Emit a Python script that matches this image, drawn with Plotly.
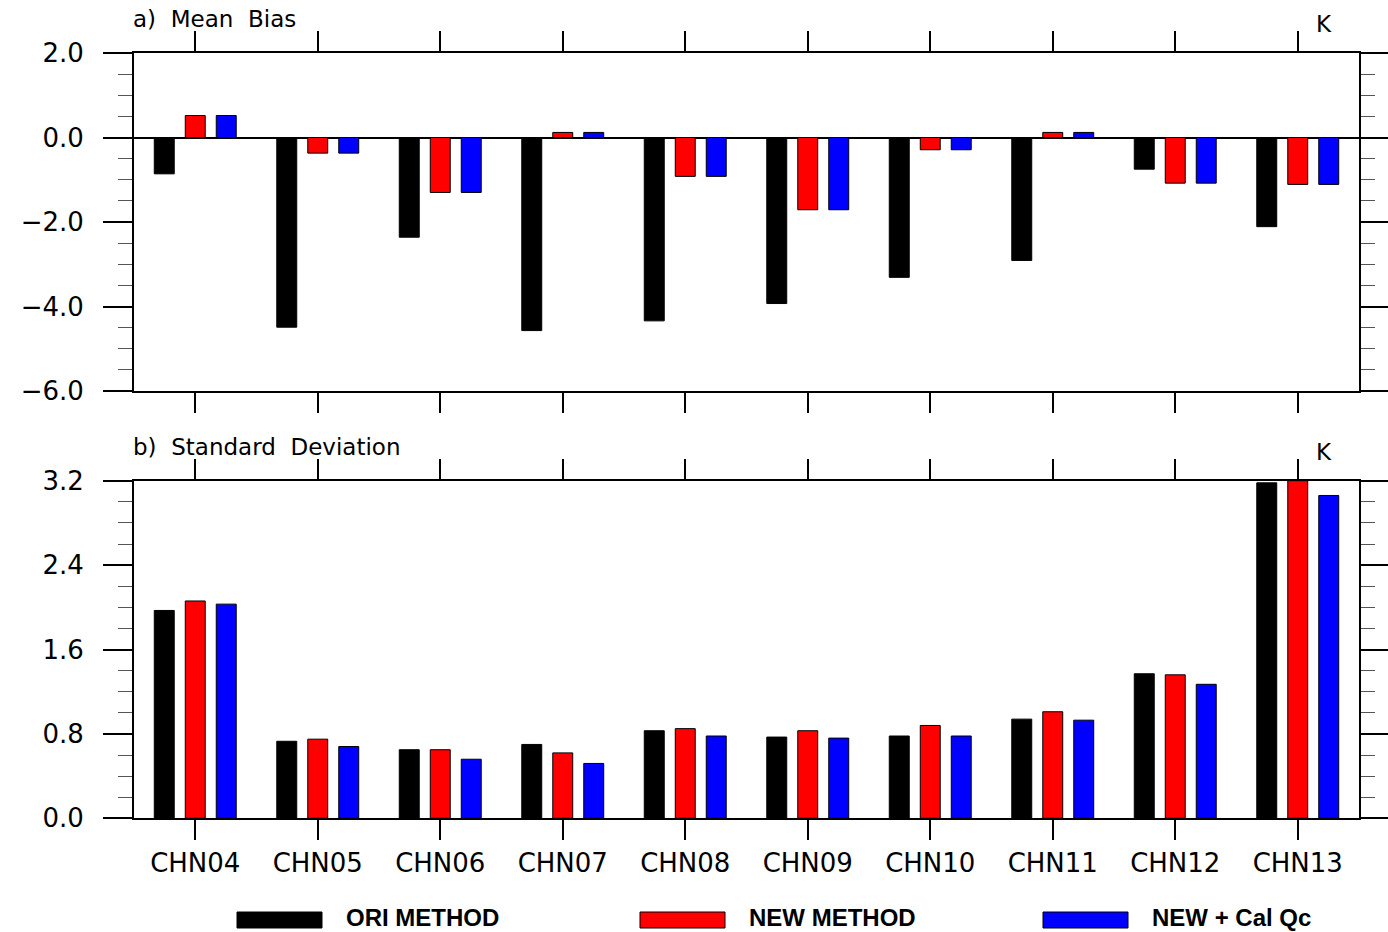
import plotly.graph_objects as go

channels = ["CHN04", "CHN05", "CHN06", "CHN07", "CHN08",
            "CHN09", "CHN10", "CHN11", "CHN12", "CHN13"]
series_names = ["ORI METHOD", "NEW METHOD", "NEW + Cal Qc"]
series_colors = ["#000000", "#ff0000", "#0000ff"]

bias_ori = [-0.86, -4.49, -2.36, -4.57, -4.34, -3.93, -3.31, -2.91, -0.75, -2.11]
bias_new = [0.52, -0.37, -1.30, 0.12, -0.92, -1.71, -0.29, 0.12, -1.08, -1.11]
bias_qc = [0.52, -0.37, -1.30, 0.12, -0.92, -1.71, -0.29, 0.12, -1.08, -1.11]

std_ori = [1.97, 0.73, 0.65, 0.70, 0.83, 0.77, 0.78, 0.94, 1.37, 3.18]
std_new = [2.06, 0.75, 0.65, 0.62, 0.85, 0.83, 0.88, 1.01, 1.36, 3.20]
std_qc = [2.03, 0.68, 0.56, 0.52, 0.78, 0.76, 0.78, 0.93, 1.27, 3.06]

W, H = 1388, 932
FONT = "DejaVu Sans"

fig = go.Figure()
for name, col, vals in zip(series_names, series_colors, [bias_ori, bias_new, bias_qc]):
    fig.add_trace(go.Bar(x=channels, y=vals, name=name, marker_color=col,
                         marker_line=dict(color="black", width=1),
                         xaxis="x", yaxis="y", showlegend=False))
for name, col, vals in zip(series_names, series_colors, [std_ori, std_new, std_qc]):
    fig.add_trace(go.Bar(x=channels, y=vals, name=name, marker_color=col,
                         marker_line=dict(color="black", width=1),
                         xaxis="x2", yaxis="y2", showlegend=False))

def px_x(p):
    return p / W

def px_y(p):
    return 1 - p / H

xdom = [px_x(134), px_x(1359)]
common_x = dict(type="category", categoryorder="array", categoryarray=channels,
                range=[-0.5, 9.5], showline=True, linewidth=2, linecolor="black",
                mirror="ticks", ticks="outside", ticklen=20, tickwidth=2,
                tickcolor="black", showgrid=False, zeroline=False, domain=xdom,
                automargin=False)
common_y = dict(showline=True, linewidth=2, linecolor="black", mirror="ticks",
                ticks="outside", ticklen=29, tickwidth=2, tickcolor="black",
                showgrid=False, tickformat=".1f", ticklabelstandoff=14,
                automargin=False,
                tickfont=dict(family=FONT, size=26, color="black"))

fig.update_layout(
    template="none",
    autosize=False,
    width=W, height=H,
    margin=dict(l=0, r=0, t=0, b=0, pad=0, autoexpand=False),
    paper_bgcolor="white", plot_bgcolor="white",
    showlegend=False,
    barmode="group", bargap=0.241, bargroupgap=0.356,
    xaxis=dict(**common_x, anchor="y", showticklabels=False),
    yaxis=dict(**common_y, range=[-6, 2], tick0=0, dtick=2,
               domain=[px_y(391), px_y(53)], anchor="x",
               zeroline=True, zerolinecolor="black", zerolinewidth=2,
               minor=dict(dtick=0.5, ticks="outside", ticklen=14, tickwidth=1,
                          tickcolor="#555555", showgrid=False)),
    xaxis2=dict(**common_x, anchor="y2", showticklabels=True, ticklabelstandoff=0,
                tickfont=dict(family=FONT, size=26, color="black")),
    yaxis2=dict(**common_y, range=[0, 3.2], tick0=0, dtick=0.8,
                domain=[px_y(818.3), px_y(480.7)], anchor="x2", zeroline=False,
                minor=dict(dtick=0.2, ticks="outside", ticklen=14, tickwidth=1,
                           tickcolor="#555555", showgrid=False)),
)

NB = "\u00a0"
annos = [
    dict(text=f"a){NB}{NB}Mean{NB}{NB}Bias", x=px_x(131), y=px_y(19)),
    dict(text=f"b){NB}{NB}Standard{NB}{NB}Deviation", x=px_x(131), y=px_y(447)),
    dict(text="K", x=px_x(1314), y=px_y(24)),
    dict(text="K", x=px_x(1314), y=px_y(452)),
]
for a in annos:
    fig.add_annotation(xref="paper", yref="paper", xanchor="left", yanchor="middle",
                       showarrow=False, font=dict(family=FONT, size=23, color="black"),
                       **a)

# legend drawn as boxes + bold labels along the bottom
leg_box_x = [237, 640, 1043]
for bx, name, col in zip(leg_box_x, series_names, series_colors):
    fig.add_shape(type="rect", xref="paper", yref="paper",
                  x0=px_x(bx), x1=px_x(bx + 85), y0=px_y(928), y1=px_y(912),
                  fillcolor=col, line=dict(color="black", width=1))
    fig.add_annotation(xref="paper", yref="paper", x=px_x(bx + 108), y=0,
                       xanchor="left", yanchor="bottom", showarrow=False,
                       text=f"<b>{name}</b>", borderpad=0,
                       font=dict(family="Liberation Sans", size=24, color="black"))

fig.write_html("out.html")
